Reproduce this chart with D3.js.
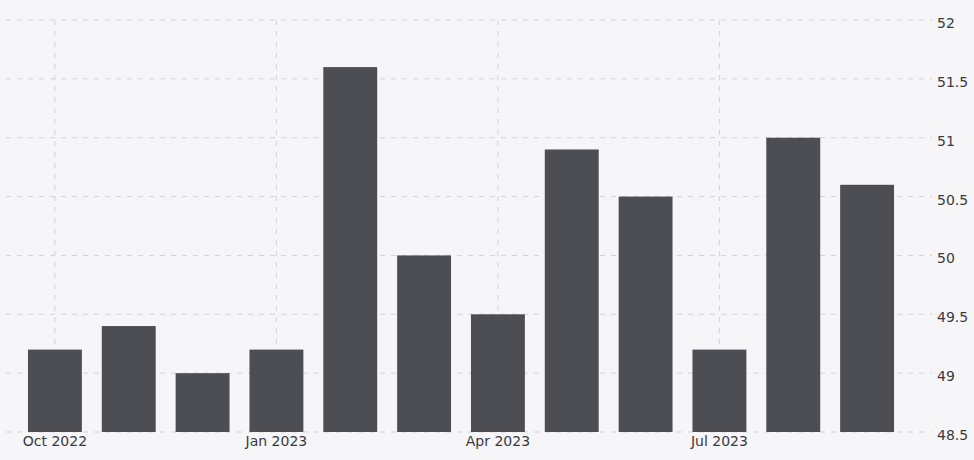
<!DOCTYPE html>
<html>
<head>
	<title></title>
	<style>
		body { margin: 0; background: #f6f5f7; }
		svg { display: block; }
	</style>
</head>
<body>

<svg id="container" width="974" height="460"></svg>

<script src="https://d3js.org/d3.v7.min.js"></script>
<script>
	// months shown as bars
	const months = ['Oct 2022', 'Nov 2022', 'Dec 2022', 'Jan 2023', 'Feb 2023', 'Mar 2023',
		'Apr 2023', 'May 2023', 'Jun 2023', 'Jul 2023', 'Aug 2023', 'Sep 2023']
	// values
	const values = [49.2, 49.4, 49.0, 49.2, 51.6, 50.0, 49.5, 50.9, 50.5, 49.2, 51.0, 50.6]
	// only these months get a label and a vertical grid line
	const xTicks = ['Oct 2022', 'Jan 2023', 'Apr 2023', 'Jul 2023']
	const yTicks = [48.5, 49, 49.5, 50, 50.5, 51, 51.5, 52]

	const svg = d3.select('#container')

	// x: one band per month
	const xScale = d3.scaleBand()
		.domain(months)
		.range([18, 904])
		.paddingInner(0.27)
		.paddingOuter(0.135)

	// y: value axis on the right
	const yScale = d3.scaleLinear()
		.domain([48.5, 52])
		.range([432, 20])

	// horizontal dashed grid
	svg.append('g')
		.selectAll('line')
		.data(yTicks)
		.enter()
		.append('line')
		.attr('x1', 6)
		.attr('x2', 932)
		.attr('y1', d => yScale(d))
		.attr('y2', d => yScale(d))
		.attr('stroke', '#d3d3d6')
		.attr('stroke-width', 1)
		.attr('stroke-dasharray', '5,6')

	// vertical dashed grid at quarter starts
	svg.append('g')
		.selectAll('line')
		.data(xTicks)
		.enter()
		.append('line')
		.attr('x1', d => xScale(d) + xScale.bandwidth() / 2)
		.attr('x2', d => xScale(d) + xScale.bandwidth() / 2)
		.attr('y1', 20)
		.attr('y2', 436)
		.attr('stroke', '#d3d3d6')
		.attr('stroke-width', 1)
		.attr('stroke-dasharray', '5,6')

	// bars
	svg.append('g')
		.selectAll('rect')
		.data(values)
		.enter()
		.append('rect')
		.attr('x', (d, i) => xScale(months[i]))
		.attr('width', xScale.bandwidth())
		.attr('y', d => yScale(d))
		.attr('height', d => yScale(48.5) - yScale(d))
		.style('fill', '#4d4e54')

	// right axis labels
	const yAxis = d3.axisRight(yScale)
		.tickValues(yTicks)
		.tickFormat(d3.format('~g'))
		.tickSize(0)
		.tickPadding(0)

	svg.append('g')
		.attr('transform', 'translate(937, 3)')
		.call(yAxis)
		.call(g => g.select('.domain').remove())
		.selectAll('text')
		.attr('fill', '#3a3a3e')
		.style('font-family', 'DejaVu Sans, Verdana, sans-serif')
		.style('font-size', '14px')

	// bottom axis labels
	const xAxis = d3.axisBottom(xScale)
		.tickValues(xTicks)
		.tickSize(0)
		.tickPadding(0)

	svg.append('g')
		.attr('transform', 'translate(0, 436)')
		.call(xAxis)
		.call(g => g.select('.domain').remove())
		.selectAll('text')
		.attr('fill', '#3a3a3e')
		.style('font-family', 'DejaVu Sans, Verdana, sans-serif')
		.style('font-size', '14px')
</script>
</body>
</html>
